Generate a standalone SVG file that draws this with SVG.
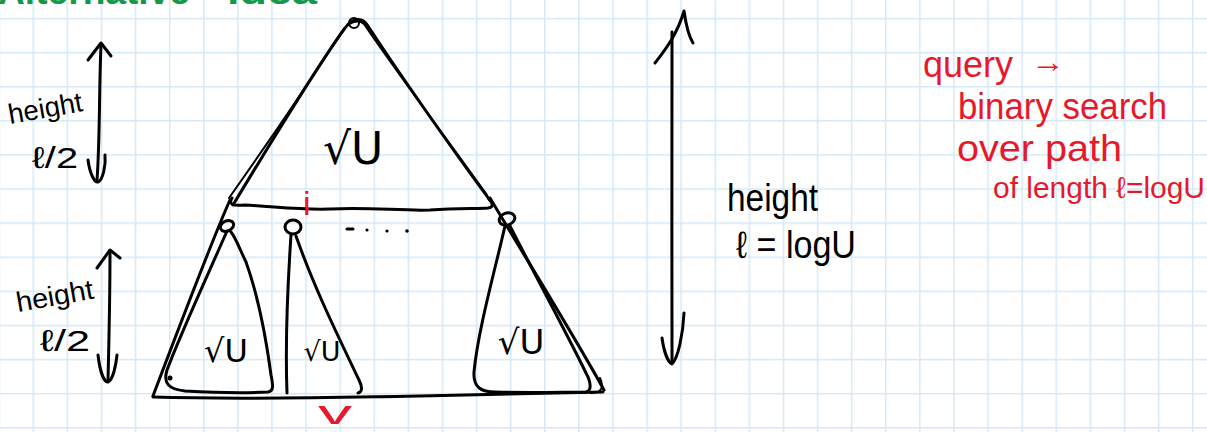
<svg xmlns="http://www.w3.org/2000/svg" width="1207" height="432" viewBox="0 0 1207 432">
  <defs>
    <pattern id="grid" x="32.5" y="17.8" width="34.1" height="34.1" patternUnits="userSpaceOnUse">
      <path d="M 0.75 0 V 34.1 M 0 0.75 H 34.1" stroke="#d4e8f7" stroke-width="1.5" fill="none"/>
    </pattern>
    <style>
      .ink { fill: none; stroke: #000; stroke-width: 3; stroke-linecap: round; stroke-linejoin: round; }
      .thin { fill: none; stroke: #000; stroke-width: 2; stroke-linecap: round; stroke-linejoin: round; }
      .t { font-family: "Liberation Sans", "DejaVu Sans", sans-serif; fill: #000; }
      .tr { font-family: "Liberation Sans", "DejaVu Sans", sans-serif; fill: #e5192b; }
      .tg { font-family: "Liberation Sans", "DejaVu Sans", sans-serif; fill: #16984a; font-weight: bold; }
      .sq { font-family: "DejaVu Sans", "Liberation Sans", sans-serif; fill: #000; text-anchor: middle; }
    </style>
  </defs>
  <rect width="1207" height="432" fill="#fff"/>
  <rect width="1207" height="432" fill="url(#grid)"/>

  <!-- title (cut off at top, as in the picture) -->
  <g id="title">
    <text class="tg" x="-2" y="4" font-size="36" textLength="192" lengthAdjust="spacingAndGlyphs">Alternative</text>
    <text class="tg" x="227" y="4" font-size="36" textLength="90" lengthAdjust="spacingAndGlyphs">idea</text>
  </g>

  <!-- top triangle -->
  <g id="top-tree">
    <path class="ink" d="M 233,205 C 260,160 320,62 345,28 C 352,18 362,16 368,26 C 400,75 460,160 492,203"/>
    <path class="thin" d="M 229,198 C 270,140 312,78 341,33 C 349,21 359,19 364,24 C 395,70 455,150 487,195"/>
    <circle class="thin" cx="354" cy="23" r="5"/>
    <path class="ink" d="M 232,198 C 228,205 233,206 245,205 C 280,207 300,210 330,209 C 370,207 400,211 430,210 C 460,208 478,209 488,208 C 494,207 493,203 489,199"/>
    <text class="sq" x="353" y="164" font-size="44">√U</text>
  </g>

  <!-- lower outline -->
  <g id="outline">
    <path class="ink" d="M 230,200 C 212,240 178,330 153,396"/>
    <path class="ink" d="M 153,397 C 250,400 350,397 420,396 C 500,394 560,393 603,392"/>
    <path class="ink" d="M 490,198 C 522,252 572,332 604,390"/>
  </g>

  <!-- left subtree -->
  <g id="sub-left">
    <ellipse class="ink" cx="227" cy="226" rx="7" ry="5" transform="rotate(-25 227 226)"/>
    <path class="ink" d="M 227,231 C 210,270 180,335 167,370 C 163,383 168,389 185,391 C 220,393 250,393 268,392 C 274,391 273,385 271,375 C 265,330 256,290 246,262 C 240,250 236,238 231,232"/>
    <circle cx="170" cy="378" r="2.5" fill="#000"/>
    <text class="sq" x="226" y="362" font-size="32">√U</text>
  </g>

  <!-- middle subtree -->
  <g id="sub-mid">
    <ellipse class="ink" cx="293" cy="227" rx="8" ry="7"/>
    <path class="ink" d="M 291,235 C 288,280 285,340 287,393"/>
    <path class="ink" d="M 296,236 C 315,290 340,340 359,380 C 363,388 362,392 358,393"/>
    <text class="sq" x="322" y="361" font-size="27">√U</text>
  </g>

  <!-- right subtree -->
  <g id="sub-right">
    <ellipse class="ink" cx="507" cy="219" rx="8" ry="6" transform="rotate(-20 507 219)"/>
    <path class="ink" d="M 505,226 C 495,270 478,330 474,372 C 473,388 482,392 495,392 C 530,393 565,392 586,392 C 592,391 591,382 586,373 C 565,330 535,275 510,226"/>
    <path class="thin" d="M 591,393 C 602,393 604,387 600,378"/>
    <text class="sq" x="521" y="354" font-size="34">√U</text>
  </g>

  <!-- dots between subtrees -->
  <g id="dots">
    <path class="ink" d="M 347,229 L 353,229"/>
    <circle cx="367" cy="230" r="1.6" fill="#000"/>
    <circle cx="387" cy="231" r="1.6" fill="#000"/>
    <circle cx="407" cy="231" r="1.8" fill="#000"/>
  </g>

  <!-- red marks -->
  <g id="marks">
    <text class="tr" x="303" y="215" font-size="34">i</text>
    <text class="tr" x="318" y="424" font-size="34" textLength="34" lengthAdjust="spacingAndGlyphs">v</text>
  </g>

  <!-- connectors (height arrows) -->
  <g id="connectors">
    <path class="ink" d="M 101,45 C 99,90 100,140 97,180"/>
    <path class="ink" d="M 88,60 L 101,43 L 111,56"/>
    <path class="ink" d="M 88,160 C 90,175 95,183 98,182 C 103,180 106,165 105,155"/>

    <path class="ink" d="M 110,252 C 110,300 109,340 108,380"/>
    <path class="ink" d="M 97,268 L 110,250 L 120,258"/>
    <path class="ink" d="M 98,355 C 100,372 104,382 108,382 C 113,380 116,365 117,355"/>

    <path class="ink" d="M 672,32 C 673,150 671,250 672,363"/>
    <path class="ink" d="M 655,63 C 665,50 677,35 684,11 C 686,25 688,35 693,43"/>
    <path class="ink" d="M 662,338 C 664,352 668,362 672,364 C 678,358 683,335 684,313"/>
  </g>

  <!-- labels -->
  <g id="label-top-left">
    <text class="t" x="10" y="124" font-size="28" textLength="75" lengthAdjust="spacingAndGlyphs" transform="rotate(-10 10 124)">height</text>
    <text class="t" x="32" y="168" font-size="30" textLength="46" lengthAdjust="spacingAndGlyphs">ℓ/2</text>
  </g>
  <g id="label-bottom-left">
    <text class="t" x="18" y="312" font-size="28" textLength="78" lengthAdjust="spacingAndGlyphs" transform="rotate(-10 18 312)">height</text>
    <text class="t" x="40" y="351" font-size="30" textLength="50" lengthAdjust="spacingAndGlyphs">ℓ/2</text>
  </g>
  <g id="label-right">
    <text class="t" x="727" y="211" font-size="38" textLength="91" lengthAdjust="spacingAndGlyphs">height</text>
    <text class="t" x="736" y="258" font-size="38" textLength="120" lengthAdjust="spacingAndGlyphs">ℓ = logU</text>
  </g>
  <g id="note">
    <text class="tr" x="923" y="77" font-size="36" textLength="90" lengthAdjust="spacingAndGlyphs">query</text>
    <text class="tr" x="1031" y="72" font-size="30" textLength="34" lengthAdjust="spacingAndGlyphs">→</text>
    <text class="tr" x="958" y="119" font-size="36" textLength="209" lengthAdjust="spacingAndGlyphs">binary search</text>
    <text class="tr" x="957" y="161" font-size="36" textLength="165" lengthAdjust="spacingAndGlyphs">over path</text>
    <text class="tr" x="993" y="198" font-size="30" textLength="212" lengthAdjust="spacingAndGlyphs">of length ℓ=logU</text>
  </g>
</svg>
